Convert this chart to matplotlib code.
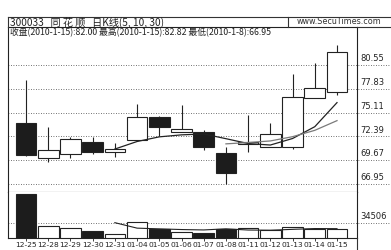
import matplotlib
matplotlib.use('Agg')
import matplotlib.pyplot as plt
from matplotlib import font_manager
from matplotlib.lines import Line2D
import numpy as np
import pandas as pd

# ---------------- data ----------------
dates = ['12-25', '12-28', '12-29', '12-30', '12-31', '01-04', '01-05', '01-06',
         '01-07', '01-08', '01-11', '01-12', '01-13', '01-14', '01-15']
opens = [73.95, 69.89, 70.38, 71.75, 70.57, 71.98, 74.57, 72.93,
         72.93, 70.53, 71.52, 71.14, 71.14, 76.81, 77.50]
highs = [78.84, 73.43, 72.36, 72.36, 71.67, 76.09, 74.72, 75.98,
         73.10, 71.21, 74.84, 73.96, 79.52, 80.74, 82.82]
lows = [70.15, 69.50, 69.89, 70.38, 70.00, 71.90, 72.44, 72.93,
        70.84, 66.95, 70.64, 71.14, 70.95, 76.80, 77.12]
closes = [70.26, 70.84, 72.06, 70.64, 70.92, 74.57, 73.50, 73.20,
          71.14, 68.24, 71.78, 72.66, 76.93, 77.89, 82.00]
volumes = [97300, 27900, 22100, 16800, 8850, 36700, 19900, 14600,
           12400, 21200, 23400, 17700, 24300, 21200, 19900]
price_ticks = [66.95, 69.67, 72.39, 75.11, 77.83, 80.55]
vol_ticks = [34506]
title_text = '300033   同 花 顺   日K线(5, 10, 30)'
info_text = '收盘(2010-1-15):82.00 最高(2010-1-15):82.82 最低(2010-1-8):66.95'
site_text = 'www.SecuTimes.com'

# ---------------- fonts ----------------
names = {f.name for f in font_manager.fontManager.ttflist}
narrow = 'Liberation Sans Narrow' in names
num_font = 'Liberation Sans Narrow' if narrow else 'DejaVu Sans'
xt_size = 7 if narrow else 5.4
rt_size = 7 if narrow else 6
cjk = ['Noto Sans CJK SC', 'DejaVu Sans']

W, H = 391, 250
fig = plt.figure(figsize=(W / 100, H / 100), dpi=100)
fig.patch.set_facecolor('white')


def fx(x):
    return x / W


def fy(y):
    return 1 - y / H


L, R = 8, 357
TOP, SEP, BOT = 27, 192, 238.3
ax = fig.add_axes([fx(L), fy(SEP), (R - L) / W, (SEP - TOP) / H])
axv = fig.add_axes([fx(L), fy(BOT), (R - L) / W, (BOT - SEP) / H], sharex=ax)

n = len(dates)
x = np.arange(n)
o = np.array(opens); c = np.array(closes); h = np.array(highs); lo = np.array(lows)
v = np.array(volumes)
up = c >= o
bw = 0.93

# price gridlines
for t in price_ticks:
    ax.plot([0, (W - L) / (R - L)], [t, t], transform=ax.get_yaxis_transform(),
            color='#444444', lw=0.6, ls=(0, (1, 2)), clip_on=False, zorder=1)
    ax.text((360 - L) / (R - L), t + 0.2, f'{t:.2f}', transform=ax.get_yaxis_transform(),
            va='bottom', ha='left', fontsize=rt_size, family=num_font, color='#222222', clip_on=False)

# wicks
ax.vlines(x, lo, h, color='#222222', lw=0.8, zorder=2)
# bodies
bottoms = np.minimum(o, c)
heights = np.maximum(np.abs(c - o), 0.08)
ax.bar(x, heights, bw, bottom=bottoms, color=np.where(up, 'white', '#1c1c1c'),
       edgecolor='#222222', linewidth=0.8, zorder=3)

# moving averages
cs = pd.Series(closes)
ma5 = cs.rolling(5).mean()
ma10 = cs.rolling(10).mean()
ax.plot(x, ma5, color='#222222', lw=0.9, zorder=4)
ax.plot(x, ma10, color='#7a7a7a', lw=0.9, zorder=4)

ax.set_xlim(-0.81, n - 1 + 0.9)
ax.set_ylim(66.95 - 8 / 8.75, 80.55 + 38 / 8.75)
ax.set_yticks([])
ax.tick_params(axis='x', bottom=False, labelbottom=False)
for s in ax.spines.values():
    s.set_color('#222222'); s.set_linewidth(0.8)

# volume panel
for t in vol_ticks:
    axv.plot([0, (W - L) / (R - L)], [t, t], transform=axv.get_yaxis_transform(),
             color='#444444', lw=0.6, ls=(0, (1, 2)), clip_on=False, zorder=1)
    axv.text((360 - L) / (R - L), t + 3000, f'{t}', transform=axv.get_yaxis_transform(),
             va='bottom', ha='left', fontsize=rt_size, family=num_font, color='#222222', clip_on=False)
axv.bar(x, v, bw, color=np.where(up, 'white', '#1c1c1c'), edgecolor='#222222',
        linewidth=0.8, zorder=3)
vma5 = pd.Series(volumes).rolling(5).mean()
axv.plot(x, vma5, color='#222222', lw=0.8, zorder=4)
axv.set_ylim(0, (BOT - SEP) * 2212)
axv.set_yticks([])
axv.set_xticks(x)
axv.set_xticklabels(dates, fontsize=xt_size, family=num_font, color='#222222')
axv.tick_params(axis='x', length=2.5, width=0.6, pad=0.3, color='#222222')
axv.spines['top'].set_visible(False)
for s in ['left', 'right', 'bottom']:
    axv.spines[s].set_color('#222222'); axv.spines[s].set_linewidth(0.8)

# header lines
fig.add_artist(Line2D([fx(L), 1], [fy(17), fy(17)], color='#333333', lw=0.8))
fig.add_artist(Line2D([fx(L), fx(L)], [fy(17), fy(TOP)], color='#333333', lw=0.8))
fig.add_artist(Line2D([fx(288), fx(288)], [fy(17), fy(TOP)], color='#333333', lw=0.8))
fig.add_artist(Line2D([fx(R), 1], [fy(TOP), fy(TOP)], color='#333333', lw=0.8))
fig.add_artist(Line2D([fx(R), fx(R)], [fy(BOT), fy(250)], color='#333333', lw=0.8))

fig.text(fx(10), fy(22), title_text, fontsize=7.3, family=cjk, va='center', ha='left', color='#222222')
fig.text(fx(339), fy(22), site_text, fontsize=5.8, family=num_font, va='center', ha='center', color='#333333')
fig.text(fx(10), fy(32.5), info_text, fontsize=6.3, family=cjk, va='center', ha='left', color='#222222')

fig.savefig('out.png', dpi=100, facecolor='white')
